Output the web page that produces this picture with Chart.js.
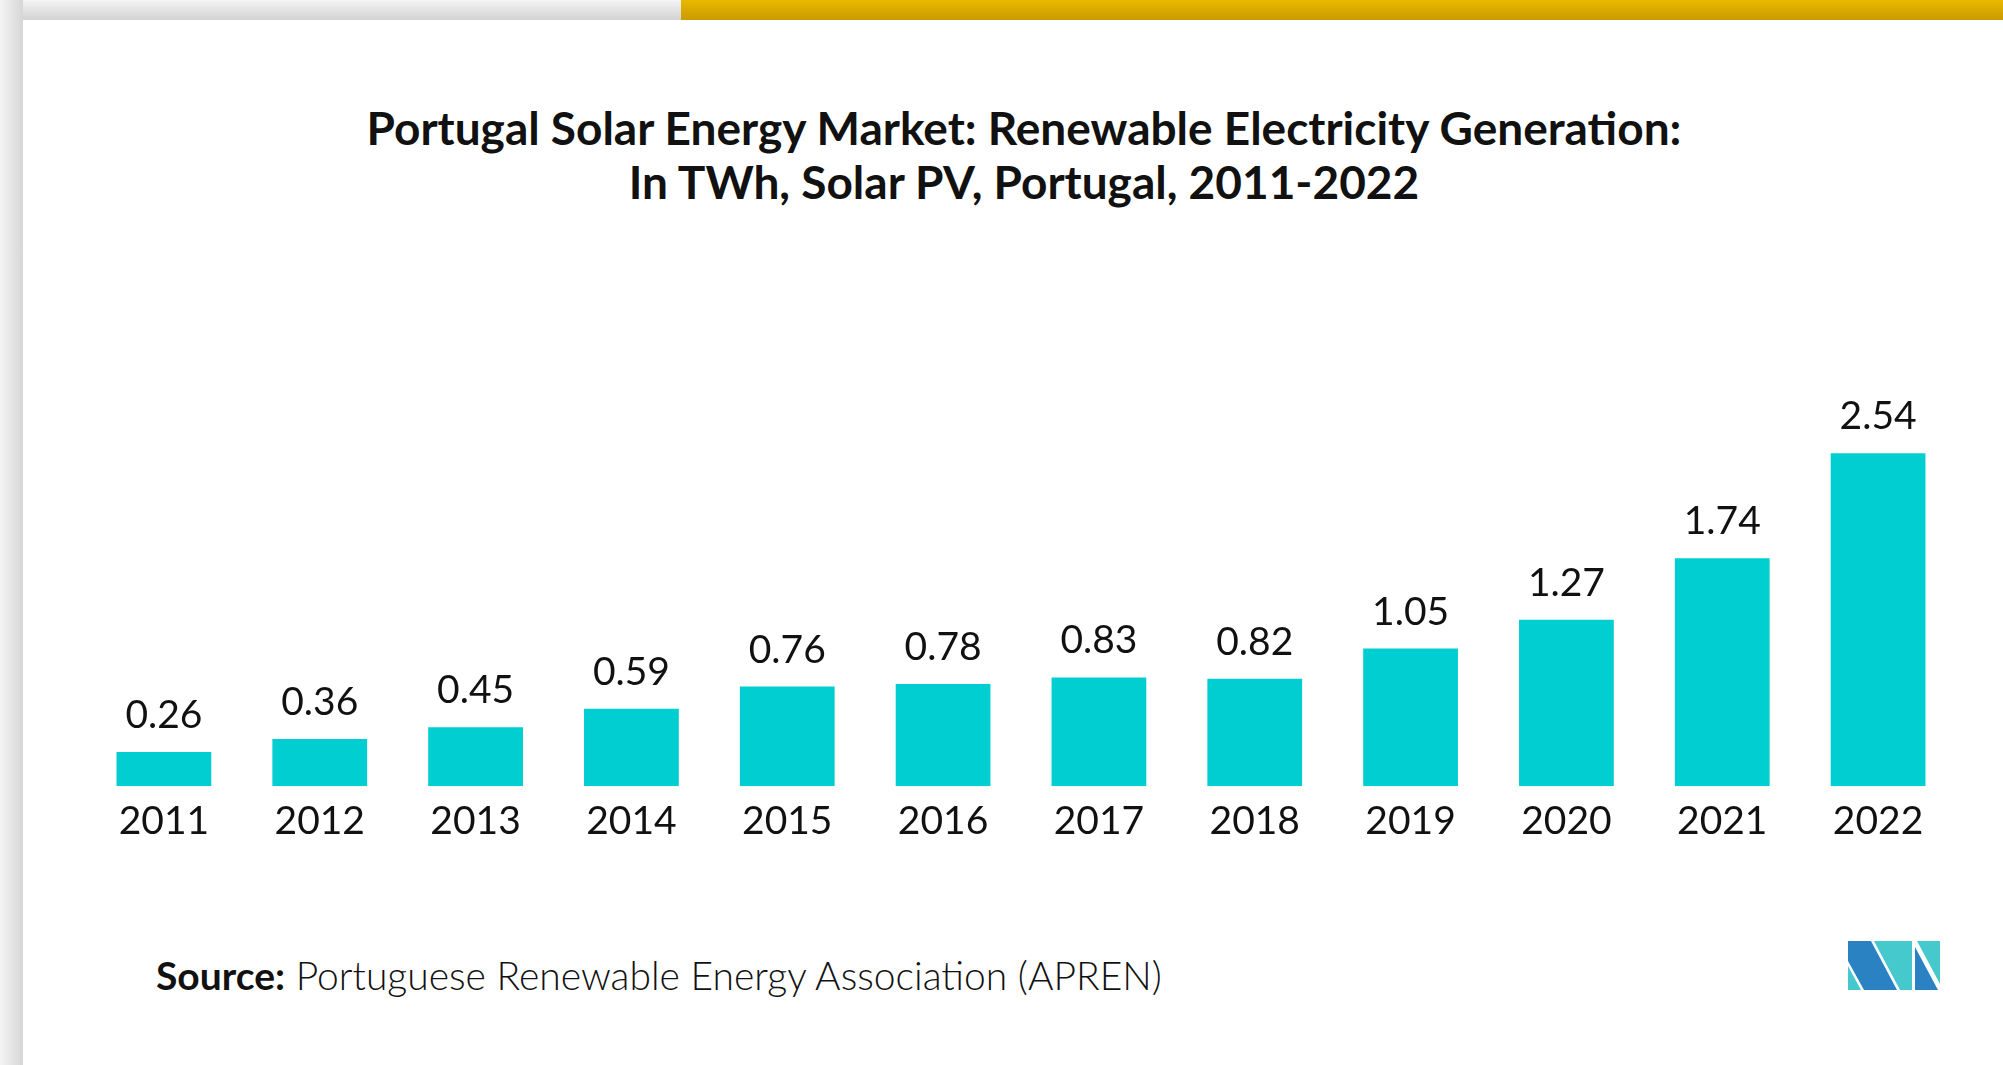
<!DOCTYPE html>
<html>
<head>
<meta charset="utf-8">
<script src="https://cdn.jsdelivr.net/npm/chart.js@4.4.1/dist/chart.umd.min.js"></script>
<style>
  html, body { margin: 0; padding: 0; }
  body { width: 2003px; height: 1065px; position: relative; overflow: hidden; background: #f3f3f3; font-family: Lato, "Open Sans", sans-serif; }
  #shadeTop { position: absolute; left: 0; top: 0; width: 681px; height: 20px; background: linear-gradient(to bottom, #f4f4f4, #d2d2d2); }
  #shadeLeft { position: absolute; left: 0; top: 0; width: 23px; height: 1065px; background: linear-gradient(to right, #f4f4f4, #d6d6d6); }
  #gold { position: absolute; left: 681px; top: 0; right: 0; height: 20px; background: linear-gradient(to bottom, #e9b900, #c99a00); }
  #card { position: absolute; left: 23px; top: 20px; right: 0; bottom: 0; background: #fff; }
  #title { position: absolute; left: 24px; width: 2000px; top: 101px; text-align: center; font-weight: 700; font-size: 46px; line-height: 54px; color: #111; }
  #source { position: absolute; left: 156px; top: 953px; font-size: 39px; line-height: 44px; color: #111; font-weight: 300; white-space: nowrap; }
  #source b { font-weight: 700; }
  #wrap { position: absolute; left: 86px; top: 393px; width: 1870px; height: 464px; }
  #logo { position: absolute; left: 0; top: 0; }
</style>
</head>
<body>
<div id="shadeTop"></div>
<div id="shadeLeft"></div>
<div id="gold"></div>
<div id="card"></div>
<div id="title">Portugal Solar Energy Market: Renewable Electricity Generation:<br>In TWh, Solar PV, Portugal, 2011-2022</div>
<div id="wrap"><canvas id="c"></canvas></div>
<div id="source"><b>Source:</b> Portuguese Renewable Energy Association (APREN)</div>
<svg id="logo" width="2003" height="1065">
  <polygon points="1848,966 1861,990 1848,990" fill="#45c9cd"/>
  <polygon points="1848,941 1871,941 1897,990 1864,990 1848,961" fill="#2b82c3"/>
  <polygon points="1874,941 1912,941 1912,990 1900,990" fill="#45c9cd"/>
  <polygon points="1915,947 1938,990 1915,990" fill="#2b82c3"/>
  <polygon points="1917,941 1940,941 1940,984" fill="#45c9cd"/>
</svg>
<script>
const years = ['2011', '2012', '2013', '2014', '2015', '2016', '2017', '2018', '2019', '2020', '2021', '2022'];
const solarTWh = [0.26, 0.36, 0.45, 0.59, 0.76, 0.78, 0.83, 0.82, 1.05, 1.27, 1.74, 2.54];
const valueLabels = ['0.26', '0.36', '0.45', '0.59', '0.76', '0.78', '0.83', '0.82', '1.05', '1.27', '1.74', '2.54'];

// values on top of bars
const barValues = {
  id: 'barValues',
  afterDatasetsDraw(chart) {
    const ctx = chart.ctx;
    const meta = chart.getDatasetMeta(0);
    ctx.save();
    ctx.font = '39px Lato';
    ctx.fillStyle = '#111';
    ctx.textAlign = 'center';
    ctx.textBaseline = 'alphabetic';
    meta.data.forEach((bar, i) => {
      ctx.fillText(valueLabels[i], bar.x, bar.y - 24);
    });
    ctx.restore();
  }
};

new Chart(document.getElementById('c'), {
  type: 'bar',
  data: {
    labels: years,
    datasets: [{
      data: solarTWh,
      backgroundColor: '#00ced1',
      borderWidth: 0,
      barPercentage: 0.608,
      categoryPercentage: 1
    }]
  },
  options: {
    responsive: true,
    maintainAspectRatio: false,
    animation: false,
    layout: { padding: 0 },
    plugins: {
      legend: { display: false },
      tooltip: { enabled: false }
    },
    scales: {
      x: {
        grid: { display: false, drawTicks: false },
        border: { display: false },
        ticks: { color: '#111', font: { family: 'Lato', size: 39 }, padding: 12, maxRotation: 0 }
      },
      y: {
        display: false,
        min: 0,
        max: 3
      }
    }
  },
  plugins: [barValues]
});
</script>
</body>
</html>
